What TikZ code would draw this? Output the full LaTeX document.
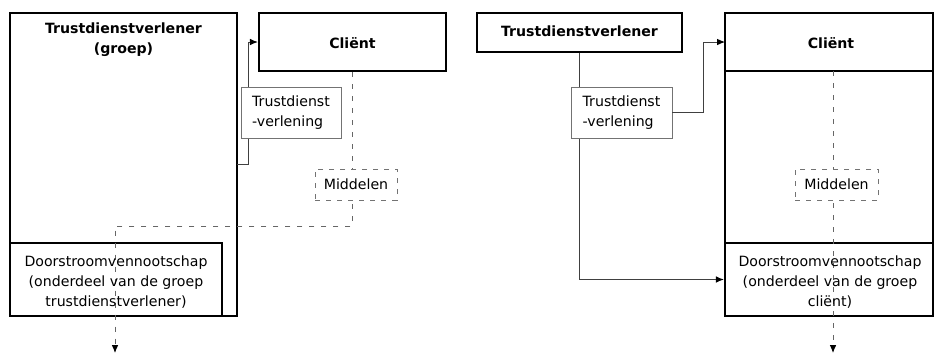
\documentclass[tikz,border=0pt]{standalone}
\usepackage{fontspec}
\setmainfont{DejaVu Sans}
\usetikzlibrary{arrows.meta}
\begin{document}
\begin{tikzpicture}[x=0.75pt,y=-0.75pt,
  every node/.style={font=\fontsize{10.6}{15}\selectfont, inner sep=0pt},
  mainbox/.style={draw=black, line width=1.7pt},
  svcbox/.style={draw=black!55, line width=0.7pt, fill=white, align=left},
  midbox/.style={draw=black!55, line width=0.7pt, dash pattern=on 3.75pt off 4.5pt, fill=white},
  conn/.style={draw=black!75, line width=0.7pt},
  dconn/.style={draw=black!60, line width=0.7pt, dash pattern=on 3.75pt off 5.25pt},
  tip/.style={-{Latex[length=6pt,width=5pt,color=black]}},
  lbl/.style={align=center},
  bold/.style={align=center, font=\fontsize{10.6}{15}\selectfont\bfseries}]
\fill[white] (0,0) rectangle (934,355);
\useasboundingbox (0,0) rectangle (934,355);

% ---------------- left panel ----------------
\node[mainbox, minimum width=170.25pt, minimum height=227.25pt] (tdvL) at (123.5,164.5) {};
\node[mainbox, minimum width=159pt, minimum height=54.75pt] (doorL) at (116,279.5) {};
\node[mainbox, minimum width=140.25pt, minimum height=43.5pt] (clientL) at (352.5,42) {};

\coordinate (aL) at (237,164);
\coordinate (bL) at (248,164);
\draw[conn, tip] (aL) -- (bL) |- (clientL.west);

\coordinate (cL) at (352.5,226);
\coordinate (dL) at (115,226);
\coordinate (eL) at (115,353);
\draw[dconn, tip] (clientL.south) -- (cL) -- (dL) -- (eL);

\node[svcbox, minimum width=75pt, minimum height=38.25pt] (svcL) at (291,112.5) {Trustdienst\\-verlening};
\node[midbox, minimum width=61.5pt, minimum height=23.25pt] (midL) at (356,184.5) {Middelen};

\node[bold] (titleL) at (123.5,40) {Trustdienstverlener\\(groep)};
\node[bold] (clientLt) at (352.5,43) {Cliënt};
\node[lbl] (doorLt) at (116,282) {Doorstroomvennootschap\\(onderdeel van de groep\\trustdienstverlener)};

% ---------------- right panel ----------------
\node[mainbox, minimum width=153.75pt, minimum height=29.25pt] (tdvR) at (579.5,32.5) {};
\node[mainbox, minimum width=156pt, minimum height=227.25pt] (clientR) at (829,164.5) {};
\draw[mainbox] (clientR.west |- 0,71) coordinate (hdrL) -- (clientR.east |- 0,71) coordinate (hdrR);
\node[mainbox, minimum width=156pt, minimum height=54.75pt] (doorR) at (829,279.5) {};

\draw[conn, tip] (tdvR.south) |- (doorR.west);

\coordinate (fR) at (703,112.5);
\coordinate (hR) at (725,42);

\coordinate (gR) at (833,71);
\coordinate (kR) at (833,353);
\draw[dconn, tip] (gR) -- (kR);

\node[svcbox, minimum width=75.75pt, minimum height=38.25pt] (svcR) at (621.5,112.5) {Trustdienst\\-verlening};
\draw[conn, tip] (svcR.east) -- (fR) |- (hR);
\node[midbox, minimum width=62.25pt, minimum height=23.25pt] (midR) at (836.5,184.5) {Middelen};

\node[bold] (titleR) at (579.5,31) {Trustdienstverlener};
\node[bold] (clientRt) at (831,43) {Cliënt};
\node[lbl] (doorRt) at (830,282) {Doorstroomvennootschap\\(onderdeel van de groep\\cliënt)};
\end{tikzpicture}
\end{document}
